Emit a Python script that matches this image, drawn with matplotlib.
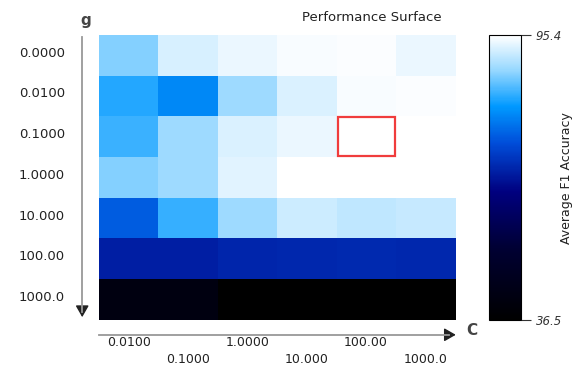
import matplotlib
matplotlib.use("Agg")
import matplotlib.pyplot as plt
import numpy as np
from matplotlib.colors import LinearSegmentedColormap
from matplotlib.patches import Rectangle, FancyArrowPatch
from matplotlib.lines import Line2D

# grid search values (rows = g, cols = C)
g_labels = ["0.0000", "0.0100", "0.1000", "1.0000", "10.000", "100.00", "1000.0"]
c_labels = ["0.0100", "0.1000", "1.0000", "10.000", "100.00", "1000.0"]
f1 = np.array([
    [87.2, 92.6, 94.0, 94.8, 95.0, 94.0],
    [82.4, 78.9, 88.6, 92.8, 94.8, 95.1],
    [83.6, 88.6, 92.8, 94.0, 95.4, 95.4],
    [87.2, 88.6, 93.2, 95.4, 95.4, 95.3],
    [74.5, 83.4, 88.6, 91.9, 91.0, 91.3],
    [67.0, 67.0, 68.0, 68.2, 68.3, 68.2],
    [41.5, 41.5, 36.5, 36.5, 36.5, 36.5],
])
vmin, vmax = 36.5, 95.4
best = (2, 4)  # row, col of highlighted cell

cmap = LinearSegmentedColormap.from_list("f1", [
    (0.0, (0.0, 0.0, 0.0)),
    (0.25, (0.0, 0.0, 0.2)),
    (0.45, (0.0, 0.0, 0.5)),
    (0.62, (0.0, 0.3, 0.85)),
    (0.75, (0.0, 0.6, 1.0)),
    (0.88, (0.6, 0.85, 1.0)),
    (1.0, (1.0, 1.0, 1.0)),
])

fig = plt.figure(figsize=(5.79, 3.72), dpi=100)
ax = fig.add_axes([0.171, 0.140, 0.615, 0.766])
im = ax.imshow(f1, cmap=cmap, vmin=vmin, vmax=vmax, aspect="auto", interpolation="nearest")
for s in ax.spines.values():
    s.set_visible(False)
ax.set_xticks([])
ax.set_yticks([])

r, c = best
ax.add_patch(Rectangle((c - 0.48, r - 0.48), 0.96, 0.96, fill=False, edgecolor="#f03c3c", lw=1.6))

# row labels
for i, lab in enumerate(g_labels):
    fig.text(0.112, 0.860 - i * (0.766 / 7) - 0.003, lab, ha="right", va="center", fontsize=9.5, color="#222222")
# staggered column labels
for j, lab in enumerate(c_labels):
    x = 0.171 + (j + 0.5) * 0.615 / 6
    y = 0.063 if j % 2 == 0 else 0.016
    fig.text(x, y, lab, ha="center", va="bottom", fontsize=9, color="#222222")

# axis arrows: gray shaft, dark head
fig.add_artist(Line2D([0.142, 0.142], [0.90, 0.16], transform=fig.transFigure, color="#999999", lw=1.3))
fig.add_artist(FancyArrowPatch((0.142, 0.17), (0.142, 0.14), transform=fig.transFigure,
               arrowstyle="-|>,head_length=7,head_width=4", color="#222222", lw=1, mutation_scale=1))
fig.add_artist(Line2D([0.171, 0.775], [0.100, 0.100], transform=fig.transFigure, color="#999999", lw=1.3))
fig.add_artist(FancyArrowPatch((0.765, 0.100), (0.792, 0.100), transform=fig.transFigure,
               arrowstyle="-|>,head_length=7,head_width=4", color="#222222", lw=1, mutation_scale=1))
fig.text(0.148, 0.945, "g", fontsize=11, fontweight="bold", color="#444444", ha="center", va="center")
fig.text(0.815, 0.112, "C", fontsize=11, fontweight="bold", color="#444444", ha="center", va="center")

fig.text(0.643, 0.952, "Performance Surface", ha="center", va="center", fontsize=9.5, color="#222222")

# colorbar
cax = fig.add_axes([0.845, 0.140, 0.055, 0.766])
cb = fig.colorbar(im, cax=cax)
cb.set_ticks([vmin, vmax])
cb.set_ticklabels(["36.5", "95.4"])
cb.ax.tick_params(labelsize=8.5, length=7, width=0.8, colors="#333333")
for t in cb.ax.get_yticklabels():
    t.set_fontstyle("italic")
cb.outline.set_linewidth(0.8)
fig.text(0.978, 0.52, "Average F1 Accuracy", rotation=90, ha="center", va="center", fontsize=9, color="#222222")

fig.savefig("out.png", dpi=100)
